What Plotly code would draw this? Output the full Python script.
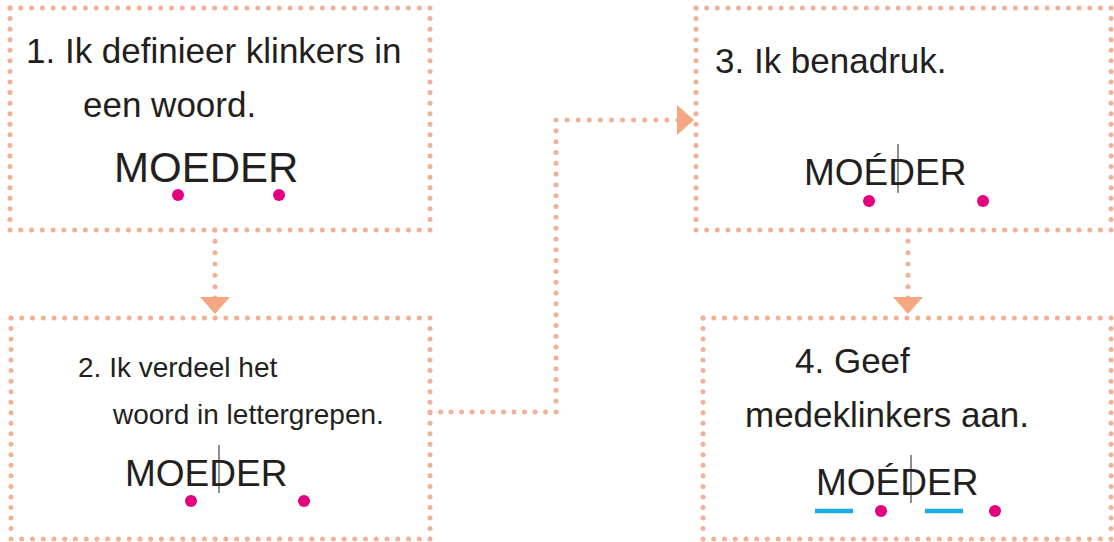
import numpy as np
import plotly.graph_objects as go

W, H = 1114, 542
FONT = "Arial, Liberation Sans, sans-serif"

# ---- boxes (x0, x1, y0, y1) ----
box_x0 = [10, 11, 696, 703]
box_x1 = [430, 430, 1111, 1111]
box_y0 = [8, 318, 8, 318]
box_y1 = [230, 539, 230, 539]

# ---- step texts ----
text_lines = ["1. Ik definieer klinkers in", "een woord.",
              "2. Ik verdeel het", "woord in lettergrepen.",
              "3. Ik benadruk.",
              "4. Geef", "medeklinkers aan."]
text_x = [24, 81, 76, 110, 713, 793, 743]
text_y = [50, 104, 367, 414, 60, 360, 414]
text_size = [35, 35, 28, 28, 35, 35, 35]

# ---- word per box (stress mark on boxes 3-4) ----
words = ["MOEDER", "MOEDER", "MO\u00c9DER", "MO\u00c9DER"]
word_x = [112, 123, 802, 814]
word_y = [167, 473, 172, 482]
word_size = [42, 37, 37, 37]

# syllable bars (boxes 2-4)
bar_x = [219, 898, 911]
bar_top = [445, 144, 455]
bar_bot = [493, 193, 503]

# vowel dots
vowel_x = [178, 279, 191, 304, 869, 983, 881, 995]
vowel_y = [195, 195, 501, 501, 201, 201, 511, 511]

# consonant underlines (box 4)
cons_x0 = [815, 925]
cons_x1 = [853, 963]
cons_y = [511, 511]

# connectors (polylines) and arrow heads
connectors = [
    ([215, 215], [230, 298]),
    ([430, 556, 556, 678], [412, 412, 120, 120]),
    ([908, 908], [230, 298]),
]
arrows = [  # (tip_x, tip_y, direction)
    (215, 314, "down"),
    (694, 120, "right"),
    (908, 314, "down"),
]

DOT = "#F2B197"
ARROW = "#F5A782"
MAGENTA = "#E5007E"
CYAN = "#1AACE3"
SPACING = 10.7


def dotted(xs, ys):
    px, py = [], []
    for i in range(len(xs) - 1):
        x0, y0, x1, y1 = xs[i], ys[i], xs[i + 1], ys[i + 1]
        L = np.hypot(x1 - x0, y1 - y0)
        n = max(1, int(round(L / SPACING)))
        t = np.linspace(0, 1, n + 1)
        if i > 0:
            t = t[1:]
        px += list(x0 + (x1 - x0) * t)
        py += list(y0 + (y1 - y0) * t)
    return px, py


fig = go.Figure()

# dotted box borders
for x0, x1, y0, y1 in zip(box_x0, box_x1, box_y0, box_y1):
    px, py = dotted([x0, x1, x1, x0, x0], [y0, y0, y1, y1, y0])
    fig.add_trace(go.Scatter(x=px, y=py, mode="markers", cliponaxis=False,
                             marker=dict(size=5, color=DOT), hoverinfo="skip"))

# connectors
for xs, ys in connectors:
    px, py = dotted(xs, ys)
    fig.add_trace(go.Scatter(x=px, y=py, mode="markers", cliponaxis=False,
                             marker=dict(size=5, color=DOT), hoverinfo="skip"))

# arrow heads
for tx, ty, d in arrows:
    if d == "down":
        ax = [tx - 15, tx + 15, tx, tx - 15]
        ay = [ty - 17, ty - 17, ty, ty - 17]
    else:
        ax = [tx - 17, tx, tx - 17, tx - 17]
        ay = [ty - 15, ty, ty + 15, ty - 15]
    fig.add_trace(go.Scatter(x=ax, y=ay, mode="lines", fill="toself",
                             fillcolor=ARROW, line=dict(width=0, color=ARROW),
                             hoverinfo="skip"))

# syllable bars
for bx, bt, bb in zip(bar_x, bar_top, bar_bot):
    fig.add_shape(type="line", x0=bx, x1=bx, y0=bt, y1=bb,
                  line=dict(color="#8E8E8E", width=2))

# consonant underlines
for cx0, cx1, cy in zip(cons_x0, cons_x1, cons_y):
    fig.add_shape(type="line", x0=cx0, x1=cx1, y0=cy, y1=cy,
                  line=dict(color=CYAN, width=4.5))

# vowel dots
fig.add_trace(go.Scatter(x=vowel_x, y=vowel_y, mode="markers",
                         marker=dict(size=12, color=MAGENTA), hoverinfo="skip"))

# texts
for t, x, y, s in zip(text_lines, text_x, text_y, text_size):
    fig.add_annotation(x=x, y=y, text=t, showarrow=False, xanchor="left",
                       yanchor="middle", font=dict(family=FONT, size=s, color="#231F20"))
for w, x, y, s in zip(words, word_x, word_y, word_size):
    fig.add_annotation(x=x, y=y, text=w, showarrow=False, xanchor="left",
                       yanchor="middle", font=dict(family=FONT, size=s, color="#231F20"))

fig.update_layout(
    width=W, height=H,
    margin=dict(l=0, r=0, t=0, b=0),
    paper_bgcolor="white", plot_bgcolor="white", showlegend=False,
    hovermode=False,
    xaxis=dict(range=[0, W], visible=False, fixedrange=True),
    yaxis=dict(range=[H, 0], visible=False, fixedrange=True),
)
fig.write_html(
    "out.html",
    config={"displayModeBar": False, "staticPlot": True},
    post_script="document.body.style.margin='0';document.body.style.overflow='hidden';",
)
